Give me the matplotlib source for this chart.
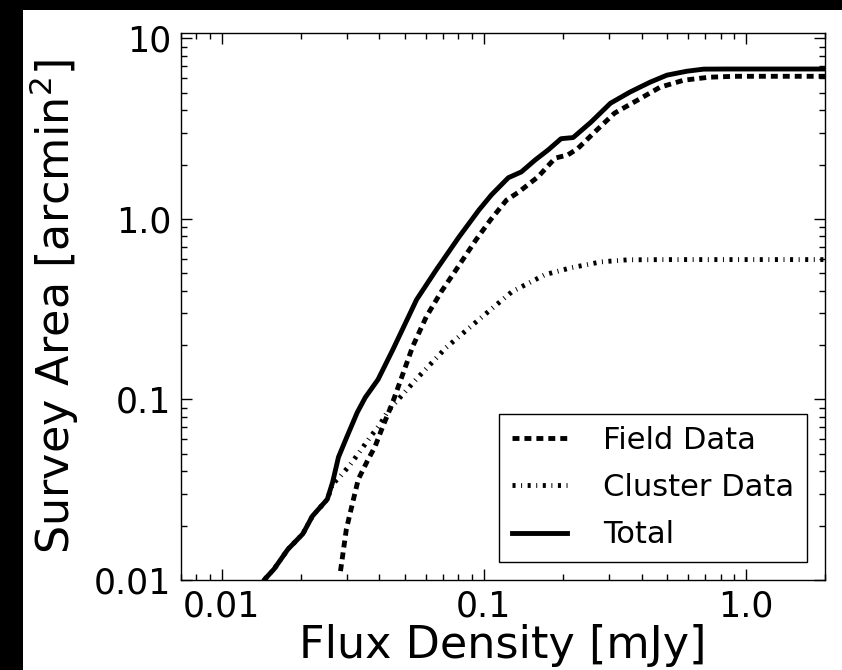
import matplotlib
matplotlib.use("Agg")
import matplotlib.pyplot as plt
from matplotlib.patches import Rectangle

# survey area curves (flux in mJy, area in arcmin^2)
total_flux = [0.0138, 0.01452, 0.01585, 0.0179, 0.0204, 0.0222, 0.0253, 0.0265, 0.0279, 0.0301,
              0.0329, 0.0353, 0.0395, 0.045, 0.0554, 0.0659, 0.0805, 0.0958, 0.107, 0.124,
              0.139, 0.157, 0.176, 0.197, 0.219, 0.256, 0.304, 0.361, 0.43, 0.499,
              0.594, 0.689, 0.85, 1.2, 2.0]
total_area = [0.0085, 0.0100, 0.0115, 0.0148, 0.0180, 0.0226, 0.0280, 0.0348, 0.0479, 0.0625,
              0.0847, 0.1025, 0.129, 0.189, 0.357, 0.523, 0.796, 1.12, 1.36, 1.69,
              1.82, 2.12, 2.41, 2.78, 2.82, 3.43, 4.37, 5.04, 5.71, 6.25,
              6.57, 6.75, 6.76, 6.76, 6.76]

field_flux = [0.0284, 0.0299, 0.0315, 0.0332, 0.0359, 0.0385, 0.0412, 0.0446, 0.0478, 0.0535,
              0.0604, 0.0688, 0.0784, 0.0933, 0.106, 0.122, 0.136, 0.161, 0.187, 0.209,
              0.228, 0.265, 0.315, 0.385, 0.47, 0.578, 0.724, 0.9, 1.3, 2.0]
field_area = [0.0112, 0.0191, 0.0263, 0.0361, 0.0454, 0.055, 0.071, 0.0938, 0.124, 0.196,
              0.288, 0.395, 0.523, 0.765, 0.987, 1.27, 1.41, 1.71, 2.17, 2.26,
              2.45, 3.03, 3.85, 4.54, 5.36, 5.86, 6.09, 6.16, 6.16, 6.16]

cluster_flux = [0.0138, 0.01452, 0.01585, 0.0179, 0.0204, 0.0222, 0.0253, 0.0265, 0.0284, 0.031,
                0.0337, 0.0368, 0.0402, 0.043, 0.0466, 0.0554, 0.0719, 0.0958, 0.128, 0.171,
                0.215, 0.28, 0.352, 0.5, 1.0, 2.0]
cluster_area = [0.0085, 0.0100, 0.0115, 0.0148, 0.0180, 0.0226, 0.0280, 0.0340, 0.0376, 0.0437,
                0.0516, 0.0617, 0.0728, 0.0859, 0.098, 0.130, 0.194, 0.277, 0.395, 0.491,
                0.536, 0.578, 0.593, 0.595, 0.595, 0.595]

xtick_vals = [0.01, 0.1, 1.0]
xtick_labels = ["0.01", "0.1", "1.0"]
ytick_vals = [0.01, 0.1, 1.0, 10]
ytick_labels = ["0.01", "0.1", "1.0", "10"]

plt.rcParams['lines.scale_dashes'] = False

fig = plt.figure(figsize=(8.42, 6.7), dpi=100, facecolor="white")
# dark page border on the left and top edges
fig.add_artist(Rectangle((0, 0), 23 / 842, 1, transform=fig.transFigure,
                         facecolor="black", edgecolor="none", zorder=-10))
fig.add_artist(Rectangle((0, 660 / 670), 1, 10 / 670, transform=fig.transFigure,
                         facecolor="black", edgecolor="none", zorder=-10))

ax = fig.add_axes([181 / 842, 1 - 580 / 670, 644 / 842, 547 / 670])
ax.set_facecolor("white")

ax.plot(field_flux, field_area, color="black", lw=3.5, linestyle=(0, (5, 3.6)),
        dash_capstyle="butt", label="Field Data")
ax.plot(cluster_flux, cluster_area, color="black", lw=3.5, linestyle=(0, (2.2, 4, 0.7, 4)),
        dash_capstyle="butt", label="Cluster Data")
ax.plot(total_flux, total_area, color="black", lw=3.5, label="Total")

ax.set_xscale("log")
ax.set_yscale("log")
ax.set_xlim(0.007, 2.0)
ax.set_ylim(0.01, 10.7)
ax.set_xticks(xtick_vals, xtick_labels)
ax.set_yticks(ytick_vals, ytick_labels)

ax.tick_params(which="both", direction="in", top=True, right=True, width=1, labelsize=25, pad=7)
ax.tick_params(which="major", length=8)
ax.tick_params(which="minor", length=4)
for s in ax.spines.values():
    s.set_linewidth(1)

ax.set_xlabel("Flux Density [mJy]", fontsize=32, labelpad=0)
ax.set_ylabel("Survey Area [arcmin$^2$]", fontsize=32, labelpad=9)

leg = ax.legend(loc="lower right", fontsize=22, fancybox=False, framealpha=1,
                edgecolor="black", handlelength=1.8, handletextpad=1.2, labelspacing=0.6,
                borderaxespad=0.6)
leg.get_frame().set_linewidth(1)

fig.savefig("out.png", dpi=100, facecolor=fig.get_facecolor())
